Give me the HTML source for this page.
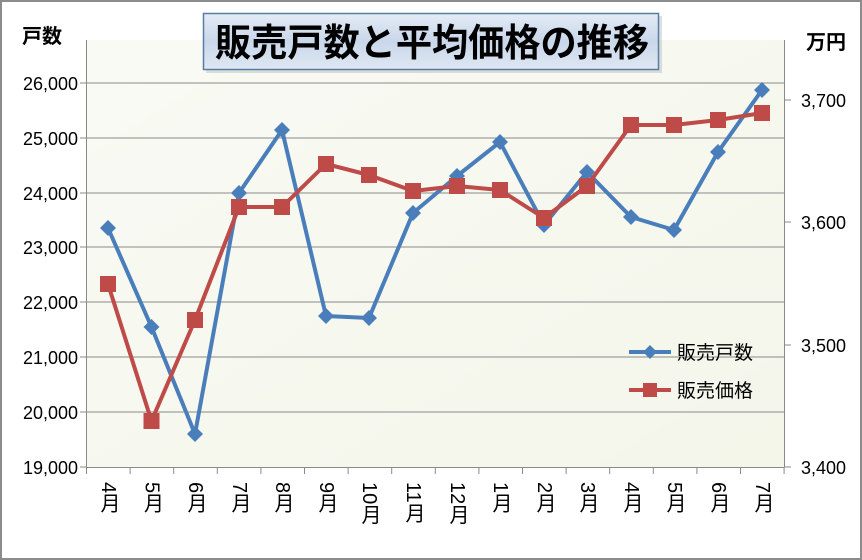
<!DOCTYPE html>
<html><head><meta charset="utf-8"><style>
body{margin:0;width:862px;height:560px;overflow:hidden;background:#fff;font-family:"Liberation Sans","Noto Sans CJK JP",sans-serif}
#wrap{position:absolute;left:0;top:0;width:858px;height:556px;border:2px solid #8c8c8c;background:#fff}
.xl{position:absolute;top:482px;writing-mode:vertical-rl;font-size:20px;color:#000;line-height:22px;width:22px}
</style></head><body>
<div id="wrap"></div>
<svg width="862" height="560" style="position:absolute;left:0;top:0" font-family="Liberation Sans, Noto Sans CJK JP, sans-serif">
<defs>
<linearGradient id="bg" x1="0" y1="0" x2="1" y2="1">
<stop offset="0" stop-color="#ffffff"/><stop offset="1" stop-color="#f2f5e6"/>
</linearGradient>
<linearGradient id="tb" x1="0" y1="0" x2="0" y2="1">
<stop offset="0" stop-color="#e4ecf6"/><stop offset="0.5" stop-color="#c9d7ea"/><stop offset="1" stop-color="#dfe8f3"/>
</linearGradient>
</defs>
<rect x="87" y="40" width="697" height="427" fill="url(#bg)"/>
<rect x="87" y="40" width="697" height="427" fill="#f5f7ec" opacity="0.6"/>
<g stroke="#8a8a8a" stroke-width="1">
<line x1="87" y1="83" x2="784" y2="83"/><line x1="87" y1="138" x2="784" y2="138"/>
<line x1="87" y1="193" x2="784" y2="193"/><line x1="87" y1="247" x2="784" y2="247"/>
<line x1="87" y1="302" x2="784" y2="302"/><line x1="87" y1="357" x2="784" y2="357"/>
<line x1="87" y1="412" x2="784" y2="412"/>
<line x1="86.5" y1="40" x2="86.5" y2="467"/><line x1="86" y1="467.5" x2="784" y2="467.5"/>
<line x1="784.5" y1="40" x2="784.5" y2="467"/>
<line x1="80" y1="83" x2="87" y2="83"/><line x1="80" y1="138" x2="87" y2="138"/><line x1="80" y1="193" x2="87" y2="193"/><line x1="80" y1="247" x2="87" y2="247"/><line x1="80" y1="302" x2="87" y2="302"/><line x1="80" y1="357" x2="87" y2="357"/><line x1="80" y1="412" x2="87" y2="412"/><line x1="80" y1="467" x2="87" y2="467"/>
<line x1="784" y1="100" x2="791" y2="100"/><line x1="784" y1="222" x2="791" y2="222"/><line x1="784" y1="345" x2="791" y2="345"/><line x1="784" y1="467" x2="791" y2="467"/>
</g>
<g stroke="#8a8a8a" id="ticks"></g>
<g font-size="18" fill="#000" text-anchor="end">
<text x="78" y="90">26,000</text><text x="78" y="145">25,000</text><text x="78" y="200">24,000</text><text x="78" y="254">23,000</text><text x="78" y="309">22,000</text><text x="78" y="364">21,000</text><text x="78" y="419">20,000</text><text x="78" y="474">19,000</text>
</g>
<g font-size="18" fill="#000">
<text x="801" y="107">3,700</text><text x="801" y="229">3,600</text><text x="801" y="352">3,500</text><text x="801" y="474">3,400</text>
</g>
<text x="22" y="43" font-size="20" font-weight="bold">戸数</text>
<text x="806" y="49" font-size="20" font-weight="bold">万円</text>
<rect x="206" y="16" width="456" height="57" fill="#9aa" opacity="0.35"/>
<rect x="203.5" y="13.5" width="455" height="56" fill="url(#tb)" stroke="#5a7ba6" stroke-width="1.5"/>
<text x="215" y="56" font-size="38" font-weight="bold" textLength="434" lengthAdjust="spacingAndGlyphs" fill="#000">販売戸数と平均価格の推移</text>
<polyline fill="none" stroke="#4a7ebb" stroke-width="4" stroke-linejoin="round" points="108,228 151.5,327 195,434 239,193 282,130 326,316 369,318 413,213 457,176 500,142 544,225 587,172 631,217 674,230 718,152 762,90"/>
<polyline fill="none" stroke="#be4b48" stroke-width="4" stroke-linejoin="round" points="108,284 151.5,421 195,320 239,207 282,207 326,164 369,175 413,191 457,186 500,190 544,218 587,186 631,125 674,125 718,120 762,113"/>
<g fill="#4a7ebb" id="dm"></g>
<g fill="#be4b48" id="sq"></g>
<line x1="629" y1="352" x2="671" y2="352" stroke="#4a7ebb" stroke-width="4"/>
<path d="M650,345 L657,352 L650,359 L643,352Z" fill="#4a7ebb"/>
<line x1="629" y1="390" x2="671" y2="390" stroke="#be4b48" stroke-width="4"/>
<rect x="643" y="383" width="14" height="14" fill="#be4b48"/>
<text x="677" y="359" font-size="19" fill="#000">販売戸数</text>
<text x="677" y="397" font-size="19" fill="#000">販売価格</text>
</svg>
<div id="xl"></div>
<script>
var xs=[108,151.5,195,239,282,326,369,413,457,500,544,587,631,674,718,762];
var b=[228,327,434,193,130,316,318,213,176,142,225,172,217,230,152,90];
var r=[284,421,320,207,207,164,175,191,186,190,218,186,125,125,120,113];
var ns="http://www.w3.org/2000/svg";
var dm=document.getElementById('dm'),sq=document.getElementById('sq'),tk=document.getElementById('ticks');
for(var i=0;i<16;i++){
 var p=document.createElementNS(ns,'path');var x=xs[i],y=b[i];
 p.setAttribute('d','M'+x+','+(y-8)+' L'+(x+8)+','+y+' L'+x+','+(y+8)+' L'+(x-8)+','+y+'Z');dm.appendChild(p);
 var q=document.createElementNS(ns,'rect');q.setAttribute('x',x-8);q.setAttribute('y',r[i]-8);q.setAttribute('width',16);q.setAttribute('height',16);sq.appendChild(q);
}
for(var i=0;i<=16;i++){var l=document.createElementNS(ns,'line');var x=86.5+i*43.6;l.setAttribute('x1',x);l.setAttribute('x2',x);l.setAttribute('y1',467);l.setAttribute('y2',474);tk.appendChild(l);}
var lab=['4月','5月','6月','7月','8月','9月','10月','11月','12月','1月','2月','3月','4月','5月','6月','7月'];
var h='';for(var i=0;i<16;i++){h+='<div class="xl" style="left:'+(xs[i]-11)+'px">'+lab[i]+'</div>';}
document.getElementById('xl').innerHTML=h;
</script>
</body></html>
